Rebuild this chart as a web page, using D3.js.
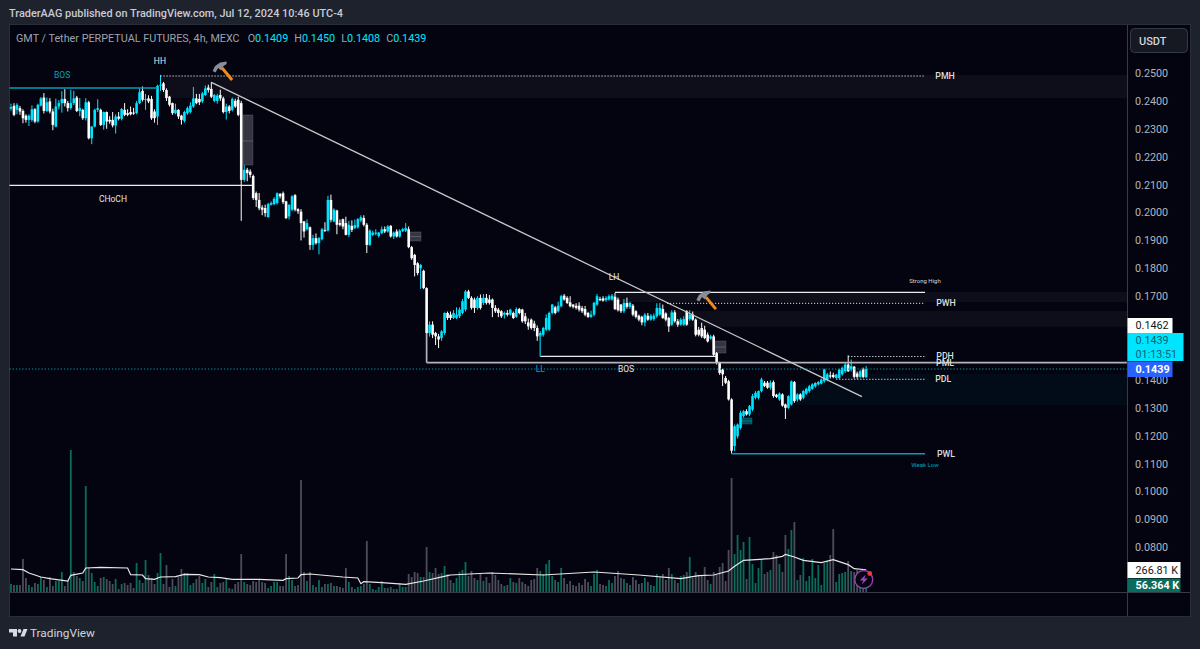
<!DOCTYPE html>
<html><head><meta charset="utf-8">
<script src="https://cdnjs.cloudflare.com/ajax/libs/d3/7.8.5/d3.min.js"></script>
<style>html,body{margin:0;padding:0;background:#1e222d;overflow:hidden}svg{display:block}text{font-family:Roboto,sans-serif}</style>
</head><body><svg id="c" width="1200" height="649"></svg>
<script>
// prices in 1/10000 USDT, 4h bars
const opens=[2372,2382,2368,2374,2364,2347,2332,2332,2370,2326,
2383,2412,2364,2398,2362,2308,2380,2392,2407,2392,
2374,2392,2412,2364,2368,2338,2395,2266,2308,2368,
2368,2314,2360,2332,2332,2312,2344,2336,2368,2356,
2360,2358,2356,2392,2436,2404,2409,2407,2362,2344,
2454,2463,2439,2415,2392,2356,2368,2347,2328,2356,
2360,2380,2409,2407,2398,2421,2448,2443,2400,2400,
2421,2409,2360,2380,2368,2400,2404,2392,2117,2153,
2147,2131,2069,2045,2018,2016,1983,2028,2030,2034,
2066,2069,2040,1986,2010,2062,2012,2003,1968,1940,
1947,1884,1908,1890,1904,1938,1935,2045,1968,2007,
1962,1976,1962,1920,1952,1944,1947,1971,1980,1956,
1884,1920,1924,1916,1926,1940,1932,1952,1914,1932,
1914,1933,1935,1940,1876,1848,1818,1800,1791,1729,
1568,1598,1568,1556,1550,1568,1640,1634,1622,1622,
1628,1640,1652,1717,1694,1688,1658,1694,1676,1694,
1688,1688,1658,1652,1646,1634,1640,1634,1640,1626,
1654,1652,1628,1606,1616,1602,1586,1556,1562,1580,
1580,1640,1660,1646,1664,1702,1694,1678,1670,1666,
1666,1658,1654,1640,1626,1634,1670,1690,1692,1686,
1688,1688,1698,1688,1670,1646,1676,1662,1666,1646,
1630,1626,1606,1630,1616,1618,1628,1634,1654,1638,
1622,1598,1642,1610,1598,1598,1646,1618,1634,1616,
1580,1586,1580,1562,1548,1556,1496,1461,1437,1407,
1395,1330,1163,1198,1228,1270,1288,1276,1294,1336,
1336,1360,1390,1390,1372,1392,1347,1330,1348,1312,
1300,1312,1392,1330,1348,1336,1351,1360,1368,1377,
1384,1387,1395,1401,1416,1418,1407,1407,1420,1431,
1455,1437,1447,1423,1411,1437,1409];
const closes=[2378,2350,2386,2362,2338,2332,2347,2370,2326,2386,
2409,2364,2395,2362,2314,2380,2392,2407,2392,2374,
2392,2409,2364,2374,2338,2395,2266,2308,2368,2374,
2314,2360,2326,2326,2312,2344,2336,2371,2350,2350,
2352,2356,2392,2431,2404,2407,2398,2338,2338,2454,
2458,2439,2410,2386,2356,2368,2344,2332,2360,2374,
2383,2409,2392,2395,2427,2445,2439,2415,2421,2419,
2409,2360,2380,2364,2407,2380,2350,2117,2153,2141,
2135,2052,2045,2015,2010,1998,2030,2034,2049,2069,
2058,2037,1980,2027,2058,2010,2004,1962,1932,1962,
1884,1908,1890,1908,1940,1935,2045,1974,2010,1956,
1956,1950,1920,1956,1938,1955,1976,1983,1956,1884,
1935,1928,1928,1928,1940,1932,1950,1914,1928,1914,
1935,1940,1944,1876,1836,1812,1783,1812,1729,1568,
1598,1562,1556,1545,1574,1640,1622,1622,1640,1634,
1652,1682,1717,1694,1658,1658,1694,1658,1694,1676,
1676,1658,1646,1640,1628,1640,1634,1652,1622,1654,
1640,1610,1610,1592,1586,1586,1556,1568,1586,1622,
1640,1670,1640,1666,1700,1688,1676,1664,1662,1658,
1652,1646,1634,1626,1634,1676,1700,1686,1684,1694,
1700,1702,1654,1650,1646,1676,1662,1676,1634,1626,
1616,1606,1634,1616,1630,1630,1658,1658,1622,1616,
1592,1642,1610,1598,1616,1618,1598,1634,1616,1562,
1562,1556,1550,1538,1556,1490,1461,1425,1420,1390,
1330,1146,1234,1240,1282,1288,1276,1306,1342,1354,
1360,1402,1378,1372,1390,1342,1339,1351,1308,1300,
1342,1395,1324,1348,1330,1360,1368,1377,1384,1389,
1392,1401,1437,1420,1412,1410,1419,1437,1443,1455,
1431,1449,1411,1411,1431,1411,1439];
const highs=[2390,2392,2392,2382,2370,2352,2352,2384,2374,2390,
2414,2428,2412,2410,2372,2408,2403,2435,2442,2400,
2440,2436,2418,2410,2372,2410,2400,2310,2372,2406,
2372,2362,2362,2345,2360,2352,2360,2375,2392,2370,
2380,2375,2400,2445,2452,2425,2420,2418,2370,2458,
2493,2468,2445,2418,2394,2390,2370,2350,2365,2380,
2395,2450,2425,2425,2432,2455,2458,2468,2425,2425,
2440,2415,2390,2385,2412,2408,2415,2400,2170,2160,
2155,2136,2075,2070,2026,2028,2035,2040,2055,2072,
2070,2075,2042,2030,2062,2066,2015,2012,1970,1975,
1950,1920,1925,1912,1945,1965,2060,2064,2015,2010,
1975,1978,1985,1970,1972,1975,1980,1990,1990,1962,
1940,1935,1940,1930,1950,1950,1955,1955,1932,1940,
1940,1945,1962,1950,1880,1852,1822,1815,1795,1732,
1610,1610,1572,1565,1578,1642,1645,1645,1650,1660,
1660,1690,1722,1723,1700,1695,1700,1706,1708,1708,
1704,1692,1668,1658,1650,1645,1650,1655,1645,1660,
1658,1655,1640,1620,1620,1612,1595,1575,1590,1635,
1645,1672,1665,1680,1705,1708,1700,1700,1672,1675,
1678,1665,1665,1644,1648,1680,1708,1698,1700,1700,
1706,1708,1712,1695,1672,1690,1695,1680,1672,1650,
1634,1630,1640,1640,1636,1638,1675,1676,1670,1642,
1626,1650,1650,1618,1622,1628,1650,1650,1645,1620,
1590,1605,1594,1570,1562,1562,1500,1465,1440,1414,
1400,1334,1240,1244,1290,1292,1295,1310,1350,1360,
1362,1408,1396,1396,1398,1398,1350,1355,1352,1315,
1345,1398,1396,1352,1352,1364,1372,1382,1388,1392,
1396,1405,1440,1425,1430,1426,1422,1440,1448,1460,
1488,1473,1450,1430,1436,1444,1450];
const lows=[2365,2345,2352,2350,2320,2322,2310,2325,2320,2322,
2380,2355,2360,2355,2295,2305,2370,2358,2380,2362,
2368,2385,2360,2345,2332,2330,2262,2245,2305,2360,
2310,2297,2300,2318,2305,2283,2330,2330,2345,2345,
2348,2350,2352,2388,2398,2368,2392,2332,2322,2314,
2436,2432,2400,2380,2350,2352,2335,2315,2322,2350,
2355,2375,2388,2385,2392,2418,2430,2410,2395,2390,
2400,2355,2333,2355,2362,2375,2345,1970,2110,2112,
2125,2045,2020,2008,1990,1985,1982,2025,2026,2028,
2050,2030,1976,1975,2005,2004,1995,1900,1910,1935,
1866,1866,1885,1850,1900,1930,1932,1965,1965,1922,
1950,1940,1918,1912,1930,1940,1942,1965,1950,1855,
1880,1915,1918,1910,1922,1926,1928,1910,1905,1910,
1910,1930,1930,1872,1830,1771,1775,1726,1725,1560,
1555,1550,1525,1514,1540,1562,1615,1615,1618,1618,
1622,1635,1645,1690,1652,1640,1652,1652,1668,1670,
1670,1625,1640,1625,1622,1620,1628,1630,1618,1622,
1635,1605,1600,1580,1580,1575,1540,1540,1555,1575,
1575,1635,1635,1642,1660,1684,1672,1660,1656,1652,
1645,1640,1628,1622,1622,1628,1665,1682,1680,1680,
1684,1684,1650,1645,1640,1640,1655,1655,1628,1620,
1610,1596,1592,1612,1612,1612,1622,1630,1618,1610,
1572,1594,1605,1590,1594,1594,1594,1612,1612,1556,
1556,1550,1546,1534,1544,1486,1455,1418,1378,1385,
1326,1136,1145,1190,1222,1265,1272,1270,1288,1330,
1330,1355,1374,1368,1365,1336,1335,1325,1304,1260,
1296,1308,1318,1322,1325,1330,1346,1354,1364,1372,
1380,1384,1390,1395,1405,1406,1404,1403,1415,1425,
1428,1430,1405,1404,1406,1406,1408];
// volume in thousands
const volumes=[96,84,84,84,396,168,84,60,108,96,
180,144,60,180,72,132,132,240,72,132,
1704,240,192,168,132,1272,288,228,120,72,
168,180,156,132,96,156,36,96,108,84,
108,48,348,144,108,384,204,168,96,228,
468,96,324,60,156,72,180,276,228,228,
84,108,156,192,108,156,60,120,216,60,
108,120,168,48,36,96,120,456,120,96,
84,132,120,144,120,108,48,72,120,120,
72,72,456,192,144,72,84,1344,240,132,
240,84,60,144,60,96,96,108,72,72,
60,48,288,120,60,36,60,72,96,612,
96,36,24,60,132,48,48,60,36,36,
108,60,60,216,180,240,228,180,180,540,
240,228,288,216,228,312,216,144,108,168,
240,264,360,192,252,168,144,216,132,180,
108,240,204,144,96,72,84,168,120,108,
168,120,96,72,144,156,288,252,216,336,
384,192,144,120,288,168,96,132,84,72,
108,84,156,120,72,216,264,96,84,72,
144,108,192,252,168,156,108,84,180,144,
96,108,168,120,84,72,216,180,216,144,
288,216,144,108,192,204,240,420,168,240,
204,192,300,144,96,240,204,300,348,132,
504,1368,456,684,504,600,156,660,336,108,
288,384,216,240,264,480,444,336,240,684,
516,744,840,144,204,408,132,192,396,168,
324,84,348,372,444,756,120,216,228,240,
372,252,240,264,72,48,56.364];
// volume moving average
const maBars=[0,4,6,10,13,19,20,24,25,30,39,40,44,45,48,50,55,58,63,66,70,74,83,91,92,96,97,100,111,116,117,118,124,132,138,146,147,160,178,195,210,224,230,235,240,242,245,254,258,259,262,265,271,275,280,282,286];
const maValues=[276,268,228,180,160,132,200,228,288,296,288,208,204,160,152,180,184,212,208,180,172,152,152,140,160,168,208,216,180,168,100,124,112,92,132,196,204,228,204,240,204,160,196,204,252,308,380,400,428,452,420,380,352,388,328,280,266.81];

const priceTicks=[.25,.24,.23,.22,.21,.2,.19,.18,.17,.14,.13,.12,.11,.1,.09,.08];
const timeTicks=[Date.UTC(2024,4,27),Date.UTC(2024,5,1),Date.UTC(2024,5,5,12),Date.UTC(2024,5,10),Date.UTC(2024,5,17),Date.UTC(2024,5,24),Date.UTC(2024,6,1),Date.UTC(2024,6,8),Date.UTC(2024,6,15),Date.UTC(2024,6,22),Date.UTC(2024,6,27,4)];
const timeLabels=["27","Jun","12:00","10","17","24","Jul","8","15","22","29"];

// structure lines: bar1, price1, bar2, price2
const whiteLevels=[[-.5,.20975,80.6,.20975],[202,.17136,305.7,.17136],[177,.14846,235.8,.14846]];
const grayLevels=[[139,.1462,373.2,.1462],[139,.1568,139,.1462]];
const trendLines=[[67.2,.24652,284.6,.13398]];
const cyanLevels=[[-.5,.24462,49,.24462],[241,.11355,305.7,.11355],[177,.1561,177,.14846]];
const dottedLevels=[[50,.24892,305.7,.24892],[219.4,.16746,305.7,.16746],[280,.14839,305.7,.14839],[276,.14022,305.7,.14022]];
const lastPrice=.1439;
// zones: first bar, top price, bottom price
const grayZones=[[50.8,.24928,.24104],[202,.1715,.1679],[218.4,.1647,.159]];
const cyanZones=[[279,.1421,.1385],[262,.1385,.131]];
// order blocks: bar1, bar2, top, mid, bottom
const grayBlocks=[[77.6,80.9,.23495,.22563,.21703],[133.4,137.1,.193,.1914,.18978],[235.4,239.1,.15394,.15179,.14964]];
const cyanBlocks=[[244.5,247.8,.12634,.12527,.12419]];
const smallLabels=[["HH",49.8,.2543,"#e6e6e6"],["BOS",17.1,.2493,"#00a5c4"],["CHoCH",34.1,.2048,"#e6e6e6"],["LH",201.7,.1769,"#e6e6e6"],["LL",177,.1439,"#00a5c4"],["BOS",205.7,.1439,"#e6e6e6"]];
const tinyLabels=[["Strong High",305.7,.1755,"#d8d8d8"],["Weak Low",305.7,.1095,"#00a5c4"]];
const levelLabels=[["PMH",312.4,.24892],["PWH",312.7,.16756],["PDH",312.4,.14857],["PML",312.4,.1462],["PDL",311.8,.14032],["PWL",312.7,.11344]];
const hammers=[[70.6,.2507],[232.4,.1686]];

const up="#00e5ff",down="#ffffff",volUp="#0b6b5c",volDown="#4c4d5a",panel="#03040f",line="#363a45";
const svg=d3.select("#c");
svg.append("rect").attr("width",1200).attr("height",649).attr("fill","#1e222d");
svg.append("rect").attr("x",9.5).attr("y",24.5).attr("width",1181).attr("height",592).attr("fill",panel).attr("stroke","#2a2e39");

const t0=Date.UTC(2024,4,25,16), H4=4*3600e3;
const x=d3.scaleTime().domain([t0,t0+286*H4]).range([11,11+286*2.99]);
const bx=i=>x(t0+i*H4);
const y=d3.scaleLinear().domain([.25,.08]).range([73,73+.17*2790]);
const yv=d3.scaleLinear().domain([0,1800]).range([592,442]);
const n=closes.length, idx=d3.range(n);

const root=svg.append("g");
root.selectAll(".gz").data(grayZones).join("rect").attr("x",d=>bx(d[0])).attr("width",d=>1127-bx(d[0])).attr("y",d=>y(d[1])).attr("height",d=>y(d[2])-y(d[1])).attr("fill","#ffffff").attr("fill-opacity",.045);
root.selectAll(".cz").data(cyanZones).join("rect").attr("x",d=>bx(d[0])).attr("width",d=>1127-bx(d[0])).attr("y",d=>y(d[1])).attr("height",d=>y(d[2])-y(d[1])).attr("fill","#00e5ff").attr("fill-opacity",.04);

function blocks(data,col){
  root.append("g").selectAll("rect").data(data).join("rect").attr("x",d=>bx(d[0])).attr("width",d=>bx(d[1])-bx(d[0])).attr("y",d=>y(d[2])).attr("height",d=>y(d[4])-y(d[2])).attr("fill",col).attr("fill-opacity",.36).attr("stroke",col).attr("stroke-opacity",.3);
  root.append("g").selectAll("line").data(data).join("line").attr("x1",d=>bx(d[0])).attr("x2",d=>bx(d[1])).attr("y1",d=>y(d[3])).attr("y2",d=>y(d[3])).attr("stroke",col).attr("stroke-opacity",.45);
}
blocks(grayBlocks,"#8a8c9c");blocks(cyanBlocks,"#00bcd4");

// volume
const vbars=root.append("g");
vbars.selectAll("rect").data(idx).join("rect").attr("x",i=>bx(i)-.9).attr("width",1.8).attr("y",i=>yv(volumes[i])).attr("height",i=>yv(0)-yv(volumes[i])).attr("fill",i=>closes[i]>=opens[i]?volUp:volDown);
root.append("path").datum(maBars.map((b,i)=>[b,maValues[i]])).attr("fill","none").attr("stroke","#e8e8e8").attr("stroke-width",1.2).attr("d",d3.line().x(d=>bx(d[0])).y(d=>yv(d[1])));

// candles
const py=v=>y(v/1e4);
const col=i=>closes[i]>=opens[i]?up:down;
const cg=root.append("g");
cg.selectAll(".w").data(idx).join("line").attr("x1",bx).attr("x2",bx).attr("y1",i=>py(highs[i])).attr("y2",i=>py(lows[i])).attr("stroke",col).attr("stroke-width",1);
cg.selectAll(".b").data(idx).join("rect").attr("x",i=>bx(i)-1.3).attr("width",2.6).attr("y",i=>py(Math.max(opens[i],closes[i]))).attr("height",i=>Math.max(1,Math.abs(py(opens[i])-py(closes[i])))).attr("fill",col);

function seg(data,stroke,w,dash){
  root.append("g").selectAll("line").data(data).join("line").attr("x1",d=>bx(d[0])).attr("x2",d=>bx(d[2])).attr("y1",d=>y(d[1])).attr("y2",d=>y(d[3])).attr("stroke",stroke).attr("stroke-width",w).attr("stroke-dasharray",dash||null);
}
seg(grayLevels,"#b4b4b8",1.7);
seg(whiteLevels,"#ececec",1.3);
seg(trendLines,"#c8c8c8",1.3);
seg(cyanLevels,"#00a0b8",1.6);
seg(dottedLevels,"#e8e8e8",1,"1.2 1.8");
seg([[-.5,lastPrice,373.2,lastPrice]],"#00a5b8",1,"1.2 2");

// labels
function labels(data,size,weight){
  root.append("g").selectAll("text").data(data).join("text").attr("x",d=>bx(d[1])).attr("y",d=>y(d[2])).attr("text-anchor","middle").attr("dominant-baseline","central").attr("font-size",size).attr("font-weight",weight).attr("fill",d=>d[3]||"#dcdcdc").text(d=>d[0]);
}
labels(smallLabels,8.5,400);labels(tinyLabels,6,400);labels(levelLabels,8.8,500);

// hammers
const hg=root.append("g").selectAll("g").data(hammers).join("g").attr("transform",d=>`translate(${bx(d[0])},${y(d[1])})`);
hg.append("line").attr("x1",0).attr("y1",-3).attr("x2",10).attr("y2",9).attr("stroke","#f0891e").attr("stroke-width",3);
hg.append("path").attr("d","M-9.5,0 L-7,-5 L-2,-8.5 L4.5,-9.5 L4.5,-7 L1.5,-5 L-1,-.5 L-4,-3 L-6.5,1.5 Z").attr("fill","#8a8d96");

// lightning marker
const bolt=root.append("g").attr("transform",`translate(${bx(285.2)},${yv(150)})`);
bolt.append("circle").attr("r",9).attr("fill",panel).attr("stroke","#9a3eb0").attr("stroke-width",1.4);
bolt.append("path").attr("d","M2,-5 L-4,1 L-.5,1 L-2,5 L4,-1 L.5,-1 Z").attr("fill","#a544c0");
bolt.append("circle").attr("cx",6).attr("cy",-6).attr("r",2.4).attr("fill","#f23645");

// frame lines
svg.append("line").attr("x1",1127.5).attr("x2",1127.5).attr("y1",25).attr("y2",616).attr("stroke",line);
svg.append("line").attr("x1",10).attr("x2",1190).attr("y1",592.5).attr("y2",592.5).attr("stroke",line);

// axes
svg.append("g").attr("transform","translate(1127,0)").call(d3.axisRight(y).tickValues(priceTicks).tickSize(0).tickPadding(8).tickFormat(d3.format(".4f"))).call(g=>g.select(".domain").remove()).selectAll("text").attr("font-size",10.8).attr("fill","#b2b5be").attr("font-family","Roboto");
svg.append("clipPath").attr("id","tc").append("rect").attr("x",10).attr("y",593).attr("width",1117).attr("height",23);
svg.append("g").attr("clip-path","url(#tc)").attr("transform","translate(0,592)").call(d3.axisBottom(x).tickValues(timeTicks).tickSize(0).tickPadding(6).tickFormat((d,i)=>timeLabels[i])).call(g=>g.select(".domain").remove()).selectAll("text").attr("font-size",10.8).attr("fill","#b2b5be").attr("font-family","Roboto");

// axis badges
function badge(bxp,by,w,h,fill,lines,color,weight){
  svg.append("rect").attr("x",bxp).attr("y",by).attr("width",w).attr("height",h).attr("fill",fill);
  lines.forEach((t,i)=>svg.append("text").attr("x",bxp+8).attr("y",by+h*(i+.5)/lines.length).attr("dominant-baseline","central").attr("font-size",10.8).attr("font-weight",weight||400).attr("fill",color).text(t));
}
badge(1127.5,318,45,15,"#ffffff",["0.1462"],"#131722");
badge(1127.5,333,56,28,"#00e5ff",["0.1439","01:13:51"],"#0a5f70");
badge(1127.5,361.5,45,15.5,"#2962ff",["0.1439"],"#ffffff",700);
badge(1127.5,562,53,16,"#ffffff",["266.81 K"],"#131722");
badge(1127.5,578.5,53,13.5,"#0b6b5c",["56.364 K"],"#ffffff",700);

// USDT button
svg.append("rect").attr("x",1130.5).attr("y",28.5).attr("width",57).attr("height",24).attr("rx",4).attr("fill","#161922").attr("stroke","#363a45");
svg.append("text").attr("x",1139).attr("y",41).attr("dominant-baseline","central").attr("font-size",11).attr("font-weight",500).attr("fill","#d1d4dc").text("USDT");

// header
svg.append("text").attr("x",9).attr("y",13.5).attr("dominant-baseline","central").attr("font-size",10.9).attr("font-weight",500).attr("fill","#c8cbd3").text("TraderAAG published on TradingView.com, Jul 12, 2024 10:46 UTC-4");
const leg=svg.append("text").attr("x",16).attr("y",38).attr("dominant-baseline","central").attr("font-size",10.8);
leg.append("tspan").attr("fill","#9ea2ac").text("GMT / Tether PERPETUAL FUTURES, 4h, MEXC");
[["O",opens[n-1]],["H",highs[n-1]],["L",lows[n-1]],["C",closes[n-1]]].forEach(([k,v],i)=>{
  leg.append("tspan").attr("dx",i?6:8).attr("fill","#9ea2ac").text(k);
  leg.append("tspan").attr("fill",up).text(d3.format(".4f")(v/1e4));
});

// footer logo
svg.append("path").attr("d","M9,629 H17 V636.5 H13 V632.5 H9 Z M20.5,636.5 L23.5,629 H27.5 L24.5,636.5 Z").attr("fill","#d8dbe2");
svg.append("circle").attr("cx",19.5).attr("cy",631).attr("r",1.9).attr("fill","#d8dbe2");
svg.append("text").attr("x",30).attr("y",632.5).attr("dominant-baseline","central").attr("font-size",11.8).attr("font-weight",400).attr("fill","#d1d4dc").text("TradingView");
</script></body></html>
